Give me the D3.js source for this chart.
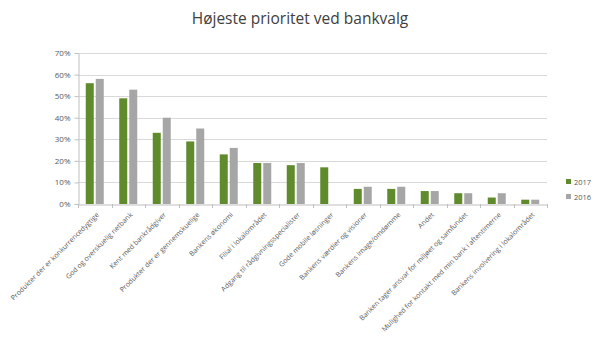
<!DOCTYPE html>
<html>
<head>
<meta charset="utf-8">
<script src="https://cdn.jsdelivr.net/npm/d3@7"></script>
<style>
  html, body { margin: 0; padding: 0; background: #fff; }
  svg { display: block; font-family: "Open Sans", "Noto Sans", sans-serif; }
</style>
</head>
<body>
<svg id="chart" width="600" height="350"></svg>
<script>
const categories = [
  "Produkter der er konkurrencedygtige",
  "God og overskuelig netbank",
  "Kent med bankrådgiver",
  "Produkter der er gennemskuelige",
  "Bankens økonomi",
  "Filial i lokalområdet",
  "Adgang til rådgivningsspecialister",
  "Gode mobile løsninger",
  "Bankens værdier og visioner",
  "Bankens image/omdømme",
  "Andet",
  "Banken tager ansvar for miljøet og samfundet",
  "Mulighed for kontakt med min bank i aftentimerne",
  "Bankens involvering i lokalområdet"
];
const seriesNames = ["2017", "2016"];
const values2017 = [56, 49, 33, 29, 23, 19, 18, 17, 7, 7, 6, 5, 3, 2];
const values2016 = [58, 53, 40, 35, 26, 19, 19, 0, 8, 8, 6, 5, 5, 2];
const yTicks = [0, 10, 20, 30, 40, 50, 60, 70];
const colors = ["#5f8b2c", "#a6a6a6"];

const svg = d3.select("#chart");
const margin = { left: 78, right: 53, top: 53, bottom: 146 };
const W = 600, H = 350;

const x = d3.scaleBand()
  .domain(categories)
  .range([margin.left, W - margin.right])
  .paddingInner(0).paddingOuter(0);

const y = d3.scaleLinear()
  .domain([0, 70])
  .range([H - margin.bottom, margin.top]);

// Title
svg.append("text")
  .attr("x", 300).attr("y", 24)
  .attr("text-anchor", "middle")
  .attr("font-size", 15.5)
  .attr("fill", "#404040")
  .text("Højeste prioritet ved bankvalg");

// Gridlines
svg.append("g")
  .selectAll("line")
  .data(yTicks.slice(1))
  .join("line")
  .attr("x1", margin.left).attr("x2", W - margin.right)
  .attr("y1", d => Math.round(y(d)) + 0.5)
  .attr("y2", d => Math.round(y(d)) + 0.5)
  .attr("stroke", "#d9d9d9").attr("stroke-width", 1);

// Y axis
const yAxis = svg.append("g")
  .attr("transform", `translate(${margin.left + 0.5},0)`)
  .call(d3.axisLeft(y).tickValues(yTicks).tickFormat(d => d + "%").tickSize(4).tickSizeOuter(0));
yAxis.select(".domain").attr("stroke", "#bfbfbf");
yAxis.selectAll(".tick line").attr("stroke", "#bfbfbf");
yAxis.selectAll(".tick text")
  .attr("font-family", "Open Sans, Noto Sans, sans-serif")
  .attr("font-size", 8).attr("fill", "#595959").attr("x", -8);

// Bars
const inner = d3.scaleBand()
  .domain(seriesNames)
  .range([0, 18]);
const barW = 8;
const groupOffset = (x.bandwidth() - 18) / 2;

const seriesData = [values2017, values2016];
seriesData.forEach((vals, si) => {
  svg.append("g")
    .selectAll("rect")
    .data(categories.map((c, i) => ({ c, v: vals[i] })))
    .join("rect")
    .attr("x", d => x(d.c) + groupOffset + inner(seriesNames[si]) + (si === 0 ? 0 : 1))
    .attr("y", d => y(d.v))
    .attr("width", barW)
    .attr("height", d => y(0) - y(d.v))
    .attr("fill", colors[si]);
});

// X axis
const xAxis = svg.append("g")
  .attr("transform", `translate(0,${Math.round(y(0)) + 0.5})`)
  .call(d3.axisBottom(x).tickSize(0).tickSizeOuter(0));
xAxis.select(".domain").attr("stroke", "#bfbfbf");
xAxis.selectAll(".tick text")
  .attr("font-family", "Open Sans, Noto Sans, sans-serif")
  .attr("font-size", 7).attr("fill", "#595959")
  .attr("text-anchor", "end")
  .attr("dy", "0.35em")
  .attr("transform", "translate(3,9) rotate(-45)")
  .attr("y", 0).attr("x", 0);

// Category boundary ticks
svg.append("g")
  .selectAll("line")
  .data(d3.range(categories.length + 1))
  .join("line")
  .attr("x1", i => Math.round(margin.left + i * x.step()) + 0.5)
  .attr("x2", i => Math.round(margin.left + i * x.step()) + 0.5)
  .attr("y1", Math.round(y(0)))
  .attr("y2", Math.round(y(0)) + 4)
  .attr("stroke", "#bfbfbf");

// Legend
const legend = svg.append("g").attr("transform", "translate(566,178)");
seriesNames.forEach((s, i) => {
  const g = legend.append("g").attr("transform", `translate(0,${i * 15})`);
  g.append("rect").attr("width", 5).attr("height", 5).attr("y", 1).attr("fill", colors[i]);
  g.append("text").attr("x", 8).attr("y", 4).attr("dy", "0.35em")
    .attr("font-size", 7.5).attr("fill", "#595959").text(s);
});
</script>
</body>
</html>
